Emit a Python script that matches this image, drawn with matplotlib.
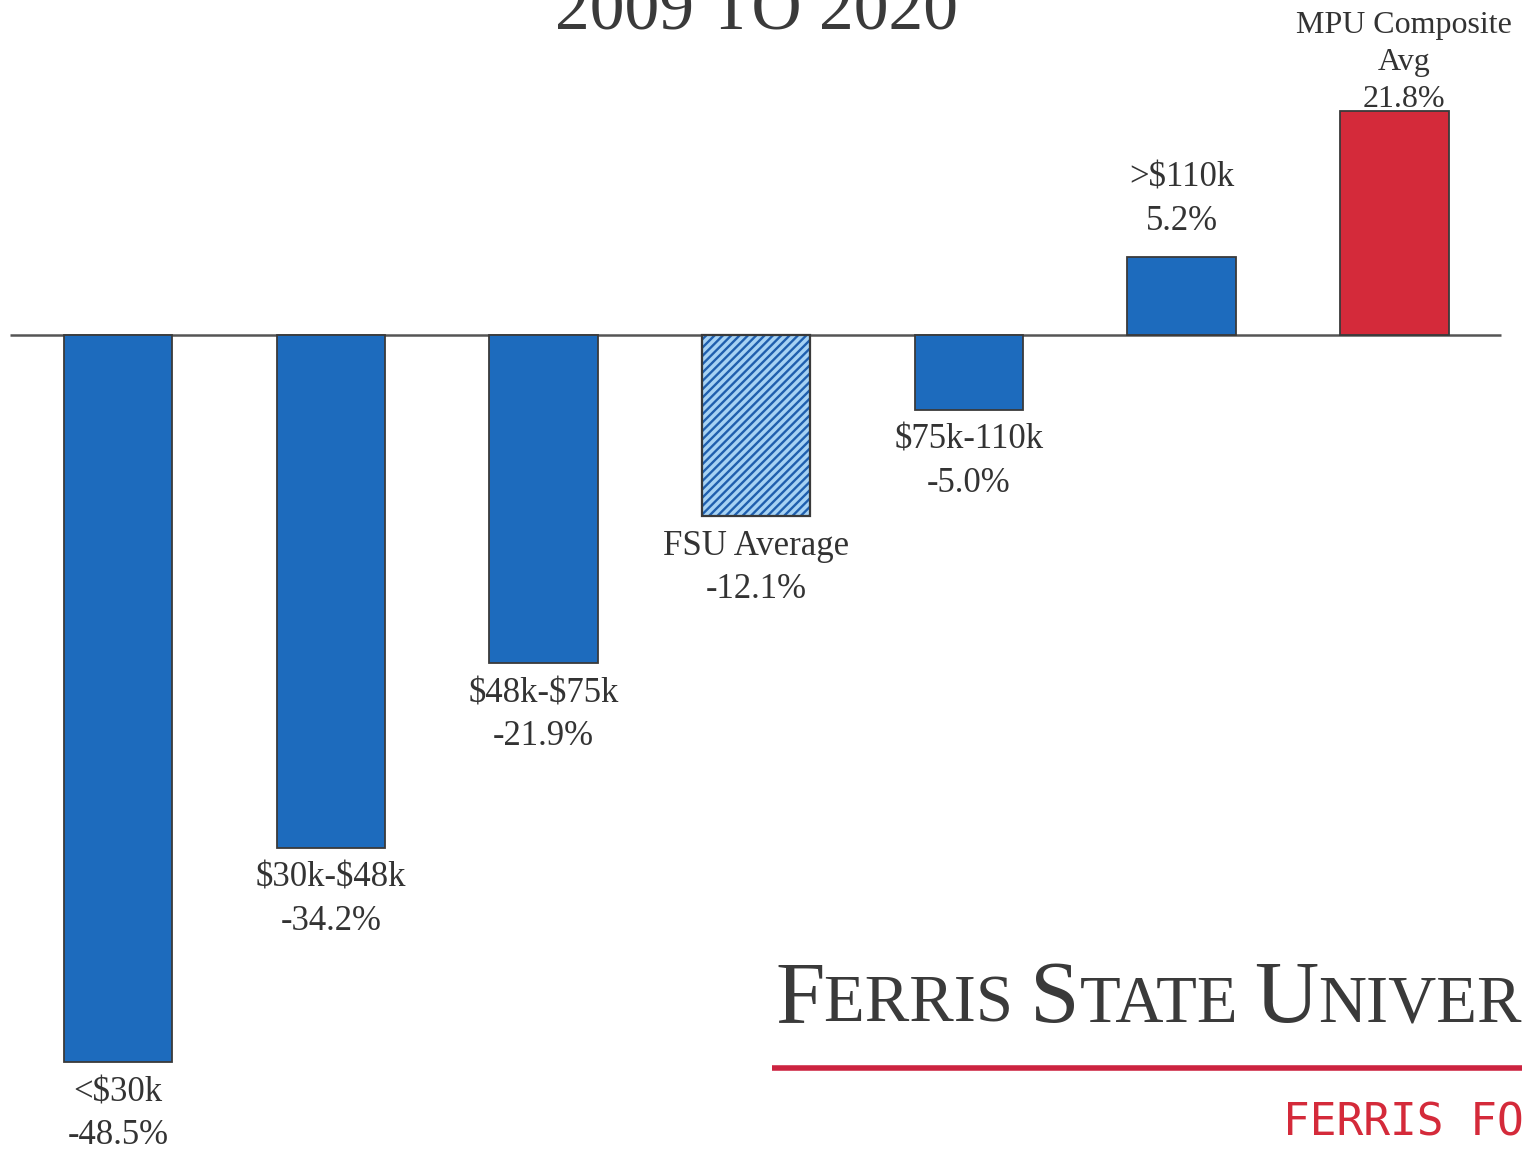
import matplotlib.pyplot as plt

plt.rcParams['text.parse_math'] = False

# data
groups = ['<$30k', '$30k-$48k', '$48k-$75k', 'FSU Average', '$75k-110k', '>$110k', 'MPU Composite\nAvg']
changes = [-48.5, -34.2, -21.9, -12.1, -5.0, 5.2, 21.8]
kinds = ['band', 'band', 'band', 'avg', 'band', 'band', 'mpu']

blue = '#1d6bbd'
red = '#d42a3a'
ink = '#333333'
serif = 'Liberation Serif'

fig = plt.figure(figsize=(15.22, 11.54), dpi=100)
ax = fig.add_axes([0, 0, 1, 1])
ax.set_xlim(-0.555, 6.60)
ax.set_ylim(-54.6, 22.33)
ax.axis('off')

# the MPU bar is drawn on its own (shorter) scale in the original, same zero
ax2 = ax.twinx()
ax2.set_position([0, 0, 1, 1])
ax2.set_xlim(-0.555, 6.60)
ax2.set_ylim(-79.7, 32.6)
ax2.axis('off')

ax.hlines(0, -0.51, 6.5, color='#555555', lw=1.8, zorder=1)

plt.rcParams['hatch.linewidth'] = 1.7
w = 0.51
for i, (g, v, k) in enumerate(zip(groups, changes, kinds)):
    a = ax2 if k == 'mpu' else ax
    if k == 'avg':
        a.bar(i, v, w, color='#a6d2f4', edgecolor='#1f5fae', hatch='////', lw=0, zorder=2)
        a.bar(i, v, w, fill=False, edgecolor='#3a3a3a', lw=1.6, zorder=3)
    else:
        a.bar(i, v, w, color=red if k == 'mpu' else blue, edgecolor='#3a3a3a', lw=1.3, zorder=2)
    txt = '%s\n%.1f%%' % (g, v)
    if v < 0:
        a.annotate(txt, (i, v), xytext=(0, -10), textcoords='offset points',
                   ha='center', va='top', fontsize=25, family=serif, color=ink,
                   linespacing=1.4)
    elif k == 'mpu':
        a.annotate(txt, (i, v), xytext=(7, -2), textcoords='offset points',
                   ha='center', va='bottom', fontsize=23, family=serif, color=ink,
                   linespacing=1.35, zorder=5)
    else:
        a.annotate(txt, (i, v), xytext=(0, 14), textcoords='offset points',
                   ha='center', va='bottom', fontsize=25, family=serif, color=ink,
                   linespacing=1.4)

# title, cut off at the top
fig.text(0.497, 1 - 30 / 1154, '2009 TO 2020', ha='center', va='baseline',
         fontsize=50, family=serif, color='#3a3a3a')

# logo in small caps
renderer = fig.canvas.get_renderer()
x = 775
base = 1 - 1022 / 1154
for s, big in [('F', True), ('ERRIS ', False), ('S', True), ('TATE ', False),
               ('U', True), ('NIVERSITY', False)]:
    t = fig.text(x / 1522, base, s, ha='left', va='baseline',
                 fontsize=64 if big else 48, family=serif, color='#3a3a3a')
    x += t.get_window_extent(renderer).width

fig.add_artist(plt.Line2D([772 / 1522, 1.0], [1 - 1068 / 1154] * 2,
                          transform=fig.transFigure, color='#cc2340', lw=4,
                          solid_capstyle='butt'))
fig.text(1283 / 1522, 1 - 1136 / 1154, 'FERRIS FORWARD', ha='left', va='baseline',
         fontsize=32, family='DejaVu Sans Mono', color=red)

fig.savefig('out.png', dpi=100)
